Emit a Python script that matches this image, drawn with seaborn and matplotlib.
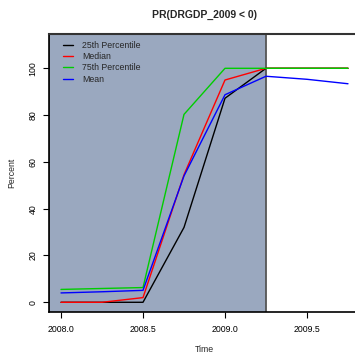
import pandas as pd
import numpy as np
import seaborn as sns
import matplotlib.pyplot as plt
from matplotlib.patches import Rectangle

time = [2008.0, 2008.25, 2008.5, 2008.75, 2009.0, 2009.25, 2009.5, 2009.75]
p25 = [0, 0, 0, 32, 87.2, 100, 100, 100]
median = [0, 0, 2, 54.5, 95, 100, 100, 100]
p75 = [5.5, 5.9, 6.3, 80.3, 100, 100, 100, 100]
mean = [4.0, 4.5, 5.1, 54, 88.7, 96.6, 95.3, 93.4]

series_names = ["25th Percentile", "Median", "75th Percentile", "Mean"]
series_colors = ["black", "#FF0000", "#00CD00", "#0000FF"]
shade_end = 2009.25

xticks = [2008.0, 2008.5, 2009.0, 2009.5]
xtick_labels = ["2008.0", "2008.5", "2009.0", "2009.5"]
yticks = [0, 20, 40, 60, 80, 100]

df = pd.DataFrame({
    "Time": time * 4,
    "Percent": p25 + median + p75 + mean,
    "Series": np.repeat(series_names, len(time)),
})

sns.set_style("ticks")
plt.rcParams['font.family'] = ['Liberation Sans', 'DejaVu Sans']

fig = plt.figure(figsize=(3.55, 3.53), dpi=100)
ax = fig.add_axes([49 / 355, 41 / 353, 311 / 355, 278 / 353])

xmin = 2008.0 - 12 / 164
ax.set_xlim(xmin, xmin + 311 / 164)
ax.set_ylim(-4.15, 114.66)

# shaded period up to the 2009Q1 release
ax.add_patch(Rectangle((xmin, -10), shade_end - xmin, 130, facecolor="#9AA8BF",
                       edgecolor="#555555", linewidth=1.3, zorder=0))

sns.lineplot(data=df, x="Time", y="Percent", hue="Series", hue_order=series_names,
             palette=series_colors, linewidth=1.0, ax=ax, zorder=2)

ax.set_xticks(xticks)
ax.set_xticklabels(xtick_labels)
ax.set_yticks(yticks)
ax.tick_params(axis="x", labelsize=6.3, length=4.3, width=0.8, pad=5, colors="black")
ax.tick_params(axis="y", labelsize=6.3, length=4.3, width=0.8, pad=4, colors="black")
for lab in ax.get_yticklabels():
    lab.set_rotation(90)
    lab.set_va("center")

ax.set_xlabel("Time", fontsize=6.3)
ax.xaxis.set_label_coords(0.5, -33 / 278)
ax.set_ylabel("Percent", fontsize=6.3)
ax.yaxis.set_label_coords(-33 / 311, 0.5)
ax.set_title("PR(DRGDP_2009 < 0)", fontsize=7.5, fontweight="bold", pad=11.5)

for side in ["left", "bottom"]:
    ax.spines[side].set_color("black")
    ax.spines[side].set_linewidth(1.2)
ax.spines["top"].set_visible(True)
ax.spines["top"].set_color("#333333")
ax.spines["top"].set_linewidth(1.5)
ax.spines["right"].set_visible(False)

ax.legend(loc="upper left", bbox_to_anchor=(14 / 311, 1 - 7 / 278), frameon=False,
          fontsize=6.3, handlelength=1.15, handletextpad=1.0, labelspacing=0.25,
          borderaxespad=0, borderpad=0)

fig.savefig("out.png", dpi=100)
